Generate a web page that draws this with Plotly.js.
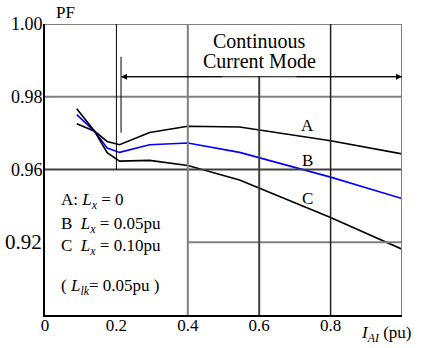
<!DOCTYPE html>
<html>
<head>
<meta charset="utf-8">
<script src="https://cdn.plot.ly/plotly-3.0.1.min.js"></script>
<style>html,body{margin:0;padding:0;background:#fff;}#chart{width:425px;height:348px;}</style>
</head>
<body>
<div id="chart"></div>
<script>
// Load current (pu)
const loadCurrent = [0.089, 0.139, 0.174, 0.209, 0.293, 0.40, 0.545, 0.80, 1.00];
// Power factor curves
const pfA = [0.9726, 0.9705, 0.9677, 0.9668, 0.9702, 0.9719, 0.9717, 0.9679, 0.9643];
const pfB = [0.9751, 0.9705, 0.9659, 0.9647, 0.9668, 0.9673, 0.9647, 0.9579, 0.9520];
const pfC = [0.9767, 0.9705, 0.9646, 0.9623, 0.9625, 0.9611, 0.9571, 0.9468, 0.9381];
const curveNames = ['A', 'B', 'C'];
const curveColors = ['#000000', '#0000ff', '#000000'];
// label positions of the curve names
const curveLabelX = [0.735, 0.735, 0.735];
const curveLabelY = [0.9720, 0.9626, 0.9521];

const xTickVals = [0, 0.2, 0.4, 0.6, 0.8];
const xTickText = ['0', '0.2', '0.4', '0.6', '0.8'];
const yTickVals = [0.96, 0.98, 1.00];
const yTickText = ['0.96', '0.98', '1.00'];
const oddTickVal = 0.94;
const oddTickText = '0.92';

const legendLines = [
  'A: <i>L</i><sub><i>x</i></sub> = 0',
  'B  <i>L</i><sub><i>x</i></sub> = 0.05pu',
  'C  <i>L</i><sub><i>x</i></sub> = 0.10pu',
  '( <i>L</i><sub><i>lk</i></sub>= 0.05pu )'
];
const legendY = [0.9513, 0.9448, 0.9388, 0.9276];

const modeText = ['Continuous', 'Current Mode'];
const modeY = [0.9953, 0.9897];
const arrowY = 0.9855;
const arrowStart = 0.213;
const boundaryTop = 0.991, boundaryBottom = 0.9701;

const serif = '"Liberation Serif"';
const grayLine = {color: '#808080', width: 2};
const darkLine = {color: '#404040', width: 2};
const blackLine = {color: '#000000', width: 1};

const traces = [pfA, pfB, pfC].map((ys, i) => ({
  x: loadCurrent, y: ys, type: 'scatter', mode: 'lines', name: curveNames[i],
  line: {color: curveColors[i], width: 1.6}, hoverinfo: 'skip'
}));

const shapes = [
  {type: 'line', xref: 'x', yref: 'y', x0: 0, x1: 1, y0: 1.0, y1: 1.0, line: grayLine},
  {type: 'line', xref: 'x', yref: 'y', x0: 0, x1: 1, y0: 0.98, y1: 0.98, line: grayLine},
  {type: 'line', xref: 'x', yref: 'y', x0: 0, x1: 1, y0: 0.96, y1: 0.96, line: darkLine},
  {type: 'line', xref: 'x', yref: 'y', x0: 0.4, x1: 1, y0: 0.94, y1: 0.94, line: grayLine},
  {type: 'line', xref: 'x', yref: 'y', x0: 0.2, x1: 0.2, y0: 0.96, y1: 1.0, line: blackLine},
  {type: 'line', xref: 'x', yref: 'y', x0: 0.4, x1: 0.4, y0: 0.92, y1: 1.0, line: grayLine},
  {type: 'line', xref: 'x', yref: 'y', x0: 0.6, x1: 0.6, y0: 0.92, y1: arrowY, line: darkLine},
  {type: 'line', xref: 'x', yref: 'y', x0: 0.8, x1: 0.8, y0: 0.92, y1: 1.0, line: {color: '#202020', width: 1.5}},
  {type: 'line', xref: 'x', yref: 'y', x0: 1.0, x1: 1.0, y0: 0.92, y1: 1.0, line: grayLine},
  {type: 'line', xref: 'x', yref: 'y', x0: arrowStart, x1: arrowStart, y0: boundaryBottom, y1: boundaryTop, line: blackLine},
  {type: 'line', xref: 'x', yref: 'y', x0: arrowStart, x1: 1.0, y0: arrowY, y1: arrowY, line: blackLine}
];

const annotations = [];
curveNames.forEach((n, i) => annotations.push({
  x: curveLabelX[i], y: curveLabelY[i], xref: 'x', yref: 'y', text: n, showarrow: false,
  font: {family: serif, size: 17, color: '#000'}
}));
legendLines.forEach((t, i) => annotations.push({
  x: 0.04, y: legendY[i], xref: 'x', yref: 'y', text: t, showarrow: false, xanchor: 'left',
  font: {family: serif, size: 17, color: '#000'}
}));
modeText.forEach((t, i) => annotations.push({
  x: 0.6, y: modeY[i], xref: 'x', yref: 'y', text: t, showarrow: false, borderpad: 0,
  font: {family: serif, size: 20, color: '#000'}
}));
annotations.push({x: arrowStart, y: arrowY, ax: 0.5, ay: arrowY, xref: 'x', yref: 'y', axref: 'x', ayref: 'y',
  text: '', showarrow: true, arrowhead: 2, arrowsize: 1.2, arrowwidth: 1, arrowcolor: '#000', standoff: 0});
annotations.push({x: 1.0, y: arrowY, ax: 0.7, ay: arrowY, xref: 'x', yref: 'y', axref: 'x', ayref: 'y',
  text: '', showarrow: true, arrowhead: 2, arrowsize: 1.2, arrowwidth: 1, arrowcolor: '#000', standoff: 0});
annotations.push({x: -0.003, y: oddTickVal, xref: 'paper', yref: 'y', xanchor: 'right', text: oddTickText,
  showarrow: false, font: {family: serif, size: 21, color: '#000'}});
annotations.push({x: 0.025, y: 1.0, xref: 'paper', yref: 'paper', xanchor: 'left', yanchor: 'bottom', text: 'PF', showarrow: false,
  font: {family: serif, size: 17, color: '#000'}});
annotations.push({x: 1.03, y: -0.02, xref: 'paper', yref: 'paper', xanchor: 'right', yanchor: 'top',
  text: '<i>I</i><sub><i>AI</i></sub> (pu)', showarrow: false, font: {family: serif, size: 17, color: '#000'}});

const layout = {
  width: 425, height: 348,
  margin: {l: 45, r: 23, t: 24, b: 33},
  paper_bgcolor: '#fff', plot_bgcolor: '#fff',
  showlegend: false,
  font: {family: serif, size: 17, color: '#000'},
  xaxis: {range: [0, 1], tickvals: xTickVals, ticktext: xTickText, showgrid: false, zeroline: false,
    showline: true, linecolor: '#000', linewidth: 2, ticks: '', ticklabelstandoff: -6,
    tickfont: {family: serif, size: 17, color: '#000'}, fixedrange: true},
  yaxis: {range: [0.92, 1.0], tickvals: yTickVals, ticktext: yTickText, showgrid: false, zeroline: false,
    showline: true, linecolor: '#000', linewidth: 2, ticks: '', ticklabelstandoff: -3,
    tickfont: {family: serif, size: 18, color: '#000'}, fixedrange: true},
  shapes: shapes,
  annotations: annotations
};

Plotly.newPlot('chart', traces, layout, {staticPlot: true, displayModeBar: false});
</script>
</body>
</html>
